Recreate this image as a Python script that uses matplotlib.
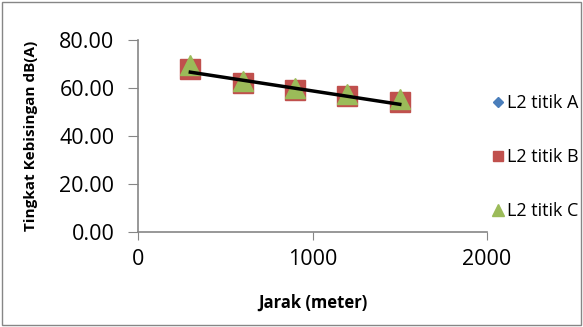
import numpy as np
import matplotlib.pyplot as plt
from matplotlib.lines import Line2D

plt.rcParams['font.family'] = ['Open Sans', 'DejaVu Sans']

jarak = [300, 600, 900, 1200, 1500]
titik_a = [68.0, 62.0, 59.0, 56.5, 54.0]
titik_b = [68.0, 62.0, 59.0, 56.5, 54.0]
titik_c = [69.5, 63.0, 60.0, 57.5, 55.5]
nama = ['L2 titik A', 'L2 titik B', 'L2 titik C']
warna = ['#4a7ebb', '#c0504d', '#9bbb59']
penanda = ['D', 's', '^']

fig = plt.figure(figsize=(5.83, 3.27), dpi=100)
ax = fig.add_axes([138/583, 1-232/327, (487-138)/583, (232-40)/327])

ax.plot(jarak, titik_a, linestyle='none', marker='D', ms=8, color=warna[0])
ax.plot(jarak, titik_b, linestyle='none', marker='s', ms=14, color=warna[1])
ax.plot(jarak, titik_c, linestyle='none', marker='^', ms=15, color=warna[2])

# trend line of series B
k, b = np.polyfit(jarak, titik_b, 1)
xs = np.array([jarak[0], jarak[-1]])
ax.plot(xs, k*xs + b, color='black', lw=2.5)

ax.set_xlim(0, 2000)
ax.set_ylim(0, 80)
ax.set_xticks([0, 1000, 2000])
ax.set_yticks([0, 20, 40, 60, 80])
ax.set_yticklabels(['%.2f' % v for v in [0, 20, 40, 60, 80]])
ax.tick_params(labelsize=15.5, color='#868686', length=7)
ax.tick_params(axis='y', pad=10)
ax.tick_params(axis='x', pad=6, length=6)
for s in ['top', 'right']:
    ax.spines[s].set_visible(False)
for s in ['left', 'bottom']:
    ax.spines[s].set_color('#868686')
    ax.spines[s].set_linewidth(1.2)

ax.set_xlabel('Jarak (meter)', fontsize=12, fontweight='bold', labelpad=17)
ax.set_ylabel('Tingkat Kebisingan dB(A)', fontsize=11, fontweight='bold', labelpad=15)

handles = [Line2D([], [], linestyle='none', marker=m, color=c, ms=s)
           for m, c, s in zip(penanda, warna, [5.5, 7, 8])]
ax.legend(handles, nama, loc='center left', bbox_to_anchor=(0.98, 0.39), frameon=False,
          fontsize=13, handletextpad=0.0, labelspacing=2.0, handlelength=1.0,
          borderaxespad=0.1)

fig.patches.append(plt.Rectangle((2/583, 2/327), 579/583, 323/327, transform=fig.transFigure,
                                 fill=False, edgecolor='#868686', lw=1))

fig.savefig('out.png', dpi=100)
